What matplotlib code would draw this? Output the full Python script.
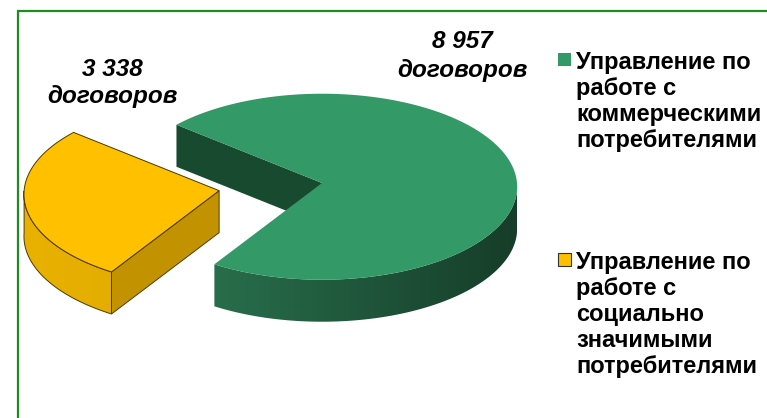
import numpy as np
import matplotlib
matplotlib.use("Agg")
import matplotlib.pyplot as plt
from matplotlib.patches import Polygon, Rectangle
from matplotlib.colors import to_rgb

# data
categories = ["Управление по\nработе с\nкоммерческими\nпотребителями",
              "Управление по\nработе с\nсоциально\nзначимыми\nпотребителями"]
values = [8957, 3338]
value_unit = "договоров"

# styles
top_colors = ["#339966", "#ffc000"]
side_left = ["#2d7c55", "#e9b200"]
side_right = ["#163d29", "#d29e00"]
cut_colors = ["#174a2e", "#c29200"]
edge_colors = ["none", "#4a3a00"]
explode = [0.0, 0.534]

plt.rcParams['font.family'] = ['Liberation Sans', 'DejaVu Sans']

W, H = 767, 418
fig = plt.figure(figsize=(W / 100, H / 100), dpi=100)
ax = fig.add_axes([0, 0, 1, 1])
ax.set_xlim(0, W)
ax.set_ylim(H, 0)
ax.set_axis_off()

# pie geometry (screen pixels), slight perspective: far side smaller
cx, cy = 322, 183
rx, ry = 195, 93
persp = 0.04
depth = 42
start = 140.0 - 360.0 * values[0] / sum(values)


def pt(c, th, dz=0.0):
    t = np.radians(th)
    s = 1 - persp * np.sin(t)
    return c[0] + rx * s * np.cos(t), c[1] - ry * s * np.sin(t) + dz


angle = start
for i, v in enumerate(values):
    span = 360.0 * v / sum(values)
    a0, a1 = angle, angle + span
    angle = a1
    mid = np.radians((a0 + a1) / 2)
    c = (cx + explode[i] * rx * np.cos(mid), cy - explode[i] * ry * np.sin(mid))
    ec = edge_colors[i]
    lw = 0.7 if ec != "none" else 0

    # radial cut faces that face the viewer
    for th, sgn in ((a0, -1), (a1, 1)):
        if np.sin(np.radians(th + sgn * 90)) < 0:
            p = pt(c, th)
            face = [c, p, (p[0], p[1] + depth), (c[0], c[1] + depth)]
            ax.add_patch(Polygon(face, closed=True, fc=cut_colors[i], ec=ec, lw=lw, zorder=2 + i * 3))

    # outer side, front half only, with horizontal shading
    ths = np.linspace(a0, a1, 400)
    ths = ths[np.sin(np.radians(ths)) < 0]
    if len(ths) > 1:
        top = [pt(c, t) for t in ths]
        bot = [pt(c, t, depth) for t in ths[::-1]]
        side = Polygon(top + bot, closed=True, fc="none", ec=ec, lw=lw, zorder=3.5 + i * 3)
        ax.add_patch(side)
        x0, x1 = c[0] - rx, c[0] + rx
        grad = np.linspace(0, 1, 256)[None, :, None]
        img = np.array(to_rgb(side_left[i])) + (np.array(to_rgb(side_right[i])) - np.array(to_rgb(side_left[i]))) * grad
        im = ax.imshow(img, extent=(x0, x1, c[1] + ry + depth + 5, c[1] - 5), aspect="auto",
                       interpolation="bilinear", zorder=3 + i * 3)
        im.set_clip_path(side)

    # top face
    arc = [pt(c, t) for t in np.linspace(a0, a1, 300)]
    ax.add_patch(Polygon([c] + arc, closed=True, fc=top_colors[i], ec=ec, lw=lw, zorder=4 + i * 3))

ax.set_xlim(0, W)
ax.set_ylim(H, 0)

# value labels
label_pos = [(462, 41, 70), (112, 69, 96)]
for v, (x, y1, y2) in zip(values, label_pos):
    num = f"{v:,}".replace(",", " ")
    for txt, y in ((num, y1), (value_unit, y2)):
        ax.text(x, y, txt, ha="center", va="center", fontsize=17.5, fontweight="bold",
                fontstyle="italic", zorder=10)

# legend
leg_pos = [53, 253]
for i, (lab, y) in enumerate(zip(categories, leg_pos)):
    ax.add_patch(Rectangle((558, y), 13, 13, fc=top_colors[i],
                           ec="#333333" if i == 1 else "none", lw=0.8, zorder=10))
    ax.text(576, y - 2, lab, ha="left", va="top", fontsize=17, fontweight="bold",
            linespacing=1.17, zorder=10)

# frame
ax.plot([18, 18, W + 5], [H + 5, 11, 11], color="#1e8c1e", lw=1.6, zorder=12,
        solid_joinstyle="miter")

fig.savefig("out.png", dpi=100)
